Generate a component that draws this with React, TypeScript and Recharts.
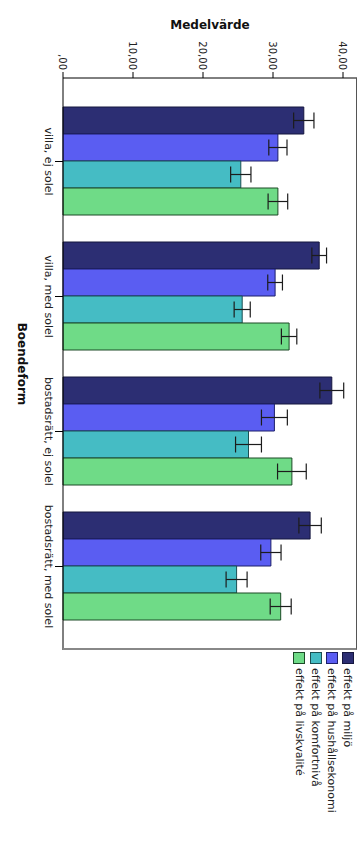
import { BarChart, Bar, XAxis, YAxis, ErrorBar, Label } from "recharts";

const categories = ["villa, ej solel", "villa, med solel", "bostadsrätt, ej solel", "bostadsrätt, med solel"];
const miljo = [34.4, 36.6, 38.4, 35.3];
const hushall = [30.7, 30.3, 30.2, 29.7];
const komfort = [25.4, 25.6, 26.5, 24.8];
const livskvalite = [30.7, 32.3, 32.7, 31.1];
const miljoErr = [1.45, 1.05, 1.7, 1.6];
const hushallErr = [1.3, 1.05, 1.85, 1.45];
const komfortErr = [1.45, 1.15, 1.85, 1.5];
const livskvaliteErr = [1.4, 1.1, 2.05, 1.5];
const valueTicks = [0, 10, 20, 30, 40];

const series = [
  { key: "miljo", name: "effekt på miljö", fill: "#2c2e73", stroke: "#15163f" },
  { key: "hushall", name: "effekt på hushållsekonomi", fill: "#5a5df2", stroke: "#1d1f6a" },
  { key: "komfort", name: "effekt på komfortnivå", fill: "#45bcc4", stroke: "#1c4f52" },
  { key: "livskvalite", name: "effekt på livskvalité", fill: "#6fdb87", stroke: "#1c4a27" },
];

const data = categories.map((c, i) => ({
  boendeform: c,
  miljo: miljo[i],
  hushall: hushall[i],
  komfort: komfort[i],
  livskvalite: livskvalite[i],
  miljoErr: miljoErr[i],
  hushallErr: hushallErr[i],
  komfortErr: komfortErr[i],
  livskvaliteErr: livskvaliteErr[i],
}));

const fmt = (v: number) => (v === 0 ? ",00" : `${v},00`);

// one-line category labels (recharts would wrap them)
const CategoryTick = ({ x, y, payload }: any) => (
  <text x={x} y={y} dy="0.71em" textAnchor="middle" fontSize={11} fill="#222">
    {payload.value}
  </text>
);

// SPSS-style chart drawn in 868x363 and turned 90° clockwise
export default function App() {
  return (
    <div style={{ position: "relative", width: 363, height: 868, overflow: "hidden", background: "#fff", fontFamily: "'DejaVu Sans', sans-serif" }}>
      <style>{`body{margin:0}`}</style>
      <div
        style={{
          position: "absolute",
          left: 0,
          top: 0,
          width: 868,
          height: 363,
          transformOrigin: "0 0",
          transform: "translateX(363px) rotate(90deg)",
        }}
      >
        <BarChart
          width={868}
          height={363}
          data={data}
          margin={{ top: 6, right: 218, bottom: 0, left: 0 }}
          barGap={0}
          barCategoryGap={13}
        >
          <XAxis
            dataKey="boendeform"
            height={63}
            padding={{ left: 16, right: 16 }}
            interval={0}
            tickSize={8}
            tickMargin={2}
            stroke="#000"
            tick={<CategoryTick />}
          >
            <Label value="Boendeform" position="insideBottom" offset={18} style={{ fontSize: 12, fontWeight: "bold", fill: "#111" }} />
          </XAxis>
          <YAxis
            width={78}
            domain={[0, 42]}
            ticks={valueTicks}
            tickFormatter={fmt}
            tickSize={6}
            tickMargin={2}
            stroke="#000"
            tick={{ fontSize: 10, fill: "#222" }}
          >
            <Label
              value="Medelvärde"
              angle={-90}
              position="insideLeft"
              offset={25}
              style={{ textAnchor: "middle", fontSize: 12, fontWeight: "bold", fill: "#111" }}
            />
          </YAxis>
          {series.map((s) => (
            <Bar key={s.key} dataKey={s.key} name={s.name} fill={s.fill} stroke={s.stroke} strokeWidth={1} isAnimationActive={false}>
              <ErrorBar dataKey={`${s.key}Err`} width={8} strokeWidth={1.2} stroke="#1c1c1c" />
            </Bar>
          ))}
        </BarChart>
        <div
          style={{
            position: "absolute",
            left: 78,
            top: 6,
            width: 572,
            height: 294,
            boxSizing: "border-box",
            borderTop: "1px solid #555",
            borderRight: "2px solid #888",
            pointerEvents: "none",
          }}
        />
        <div style={{ position: "absolute", left: 652, top: 7 }}>
          {series.map((s) => (
            <div key={s.key} style={{ display: "flex", alignItems: "center", height: 16.2, fontSize: 11, color: "#222", whiteSpace: "nowrap" }}>
              <span style={{ display: "inline-block", width: 12, height: 12, boxSizing: "border-box", background: s.fill, border: `1px solid ${s.stroke}`, marginRight: 4 }} />
              {s.name}
            </div>
          ))}
        </div>
      </div>
    </div>
  );
}
